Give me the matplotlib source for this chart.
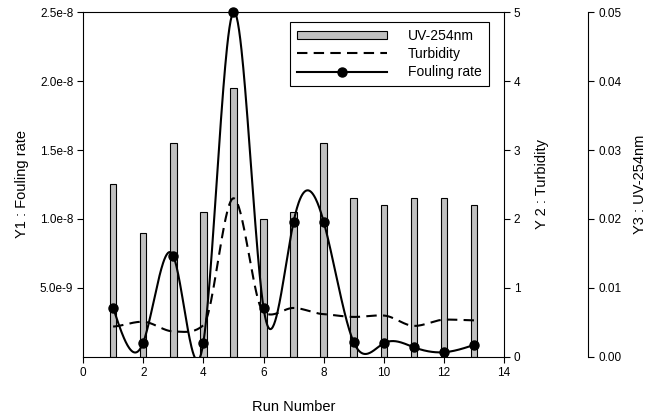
import numpy as np
import matplotlib.pyplot as plt
from matplotlib.patches import Patch
from matplotlib.lines import Line2D

plt.rcParams['font.family'] = ['Liberation Sans', 'DejaVu Sans']

# Data
runs = [1, 2, 3, 4, 5, 6, 7, 8, 9, 10, 11, 12, 13]
fouling_rate = [3.57e-9, 1.04e-9, 7.32e-9, 1.04e-9, 2.5e-8, 3.57e-9, 9.8e-9,
                9.8e-9, 1.06e-9, 0.99e-9, 0.70e-9, 0.34e-9, 0.87e-9]
turbidity = [0.44, 0.51, 0.37, 0.46, 2.30, 0.65, 0.71, 0.62, 0.58, 0.60,
             0.45, 0.54, 0.53]
uv254 = [0.025, 0.018, 0.031, 0.021, 0.039, 0.020, 0.021, 0.031, 0.023,
         0.022, 0.023, 0.023, 0.022]

x_ticks = [0, 2, 4, 6, 8, 10, 12, 14]
y1_ticks = [5e-9, 1e-8, 1.5e-8, 2e-8, 2.5e-8]
y1_labels = ['5.0e-9', '1.0e-8', '1.5e-8', '2.0e-8', '2.5e-8']
y2_ticks = [0, 1, 2, 3, 4, 5]
y3_ticks = [0.00, 0.01, 0.02, 0.03, 0.04, 0.05]


def natural_spline(x, y, n=600):
    # smooth curve through the points (natural cubic spline)
    x = np.asarray(x, float)
    y = np.asarray(y, float)
    k = len(x)
    h = np.diff(x)
    A = np.zeros((k, k))
    b = np.zeros(k)
    A[0, 0] = A[-1, -1] = 1
    for i in range(1, k - 1):
        A[i, i - 1] = h[i - 1]
        A[i, i] = 2 * (h[i - 1] + h[i])
        A[i, i + 1] = h[i]
        b[i] = 6 * ((y[i + 1] - y[i]) / h[i] - (y[i] - y[i - 1]) / h[i - 1])
    M = np.linalg.solve(A, b)
    xs = np.linspace(x[0], x[-1], n)
    idx = np.clip(np.searchsorted(x, xs) - 1, 0, k - 2)
    x0, x1 = x[idx], x[idx + 1]
    hh = x1 - x0
    t0, t1 = x1 - xs, xs - x0
    ys = (M[idx] * t0 ** 3 + M[idx + 1] * t1 ** 3) / (6 * hh) \
        + (y[idx] / hh - M[idx] * hh / 6) * t0 \
        + (y[idx + 1] / hh - M[idx + 1] * hh / 6) * t1
    return xs, ys


def cardinal_spline(x, y, tension=0.6, n=40):
    # stiffer smoothing: hermite segments with damped tangents
    x = np.asarray(x, float)
    y = np.asarray(y, float)
    m = np.gradient(y, x) * (1 - tension)
    xs_all, ys_all = [], []
    for i in range(len(x) - 1):
        t = np.linspace(0, 1, n)
        h = x[i + 1] - x[i]
        h00 = 2 * t ** 3 - 3 * t ** 2 + 1
        h10 = t ** 3 - 2 * t ** 2 + t
        h01 = -2 * t ** 3 + 3 * t ** 2
        h11 = t ** 3 - t ** 2
        xs_all.append(x[i] + t * h)
        ys_all.append(h00 * y[i] + h10 * h * m[i] + h01 * y[i + 1] + h11 * h * m[i + 1])
    return np.concatenate(xs_all), np.concatenate(ys_all)


fig = plt.figure(figsize=(6.59, 4.16), dpi=100)
ax1 = fig.add_axes([0.126, 0.142, 0.639, 0.829])
ax2 = ax1.twinx()
ax3 = ax1.twinx()

# layering: bars at the back, fouling rate on top
ax3.set_zorder(1)
ax2.set_zorder(2)
ax1.set_zorder(3)
for a in (ax1, ax2, ax3):
    a.patch.set_visible(False)

# UV-254nm bars
ax3.bar(runs, uv254, width=0.22, color='#c0c0c0', edgecolor='black', linewidth=0.8)
ax3.set_ylim(0, 0.05)
ax3.set_yticks(y3_ticks)
ax3.set_yticklabels(['%.2f' % v for v in y3_ticks])
ax3.spines['right'].set_position(('axes', 1.2))
for s in ('left', 'top', 'bottom'):
    ax3.spines[s].set_visible(False)
ax3.set_ylabel('Y3 : UV-254nm', fontsize=10.5)

# Turbidity
xs, ys = cardinal_spline(runs, turbidity)
ax2.plot(xs, ys, color='black', linestyle=(0, (5, 3)), linewidth=1.5)
ax2.set_ylim(0, 5)
ax2.set_yticks(y2_ticks)
for s in ('left', 'top', 'bottom'):
    ax2.spines[s].set_visible(False)
ax2.set_ylabel('Y 2 : Turbidity', fontsize=10.5)

# Fouling rate
xs, ys = natural_spline(runs, fouling_rate)
ax1.plot(xs, ys, color='black', linewidth=1.5)
ax1.plot(runs, fouling_rate, 'o', color='black', markersize=6.5, clip_on=False)
ax1.set_ylim(0, 2.5e-8)
ax1.set_yticks(y1_ticks)
ax1.set_yticklabels(y1_labels)
ax1.spines['right'].set_visible(False)
ax1.set_ylabel('Y1 : Fouling rate', fontsize=10.5)
ax1.set_xlabel('Run Number', fontsize=10.5)

ax1.set_xlim(0, 14)
ax1.set_xticks(x_ticks)

for a in (ax1, ax2, ax3):
    a.tick_params(direction='out', length=4, width=0.8, labelsize=8.5, pad=3)
    for s in a.spines.values():
        s.set_linewidth(0.8)

ax1.yaxis.set_label_coords(-0.145, 0.5)
ax2.yaxis.set_label_coords(1.09, 0.5)
ax3.yaxis.set_label_coords(1.323, 0.5)
ax1.xaxis.set_label_coords(0.5, -0.145)
for lab in (ax1.yaxis.label, ax2.yaxis.label, ax3.yaxis.label, ax1.xaxis.label):
    lab.set_verticalalignment('center')

handles = [
    Patch(facecolor='#c0c0c0', edgecolor='black', linewidth=0.8),
    Line2D([], [], color='black', linestyle=(0, (5, 3)), linewidth=1.5),
    Line2D([], [], color='black', linewidth=1.5, marker='o', markersize=6.5),
]
leg = ax1.legend(handles, ['UV-254nm', 'Turbidity', 'Fouling rate'],
                 loc='upper left', bbox_to_anchor=(290 / 659, 1 - 22 / 416),
                 bbox_transform=fig.transFigure, borderaxespad=0,
                 fontsize=10, frameon=True, fancybox=False, edgecolor='black',
                 framealpha=1, handlelength=6.5, handleheight=0.6,
                 handletextpad=1.5, labelspacing=0.3, borderpad=0.5,
                 numpoints=1)
leg.get_frame().set_linewidth(0.8)

fig.savefig('out.png', dpi=100)
